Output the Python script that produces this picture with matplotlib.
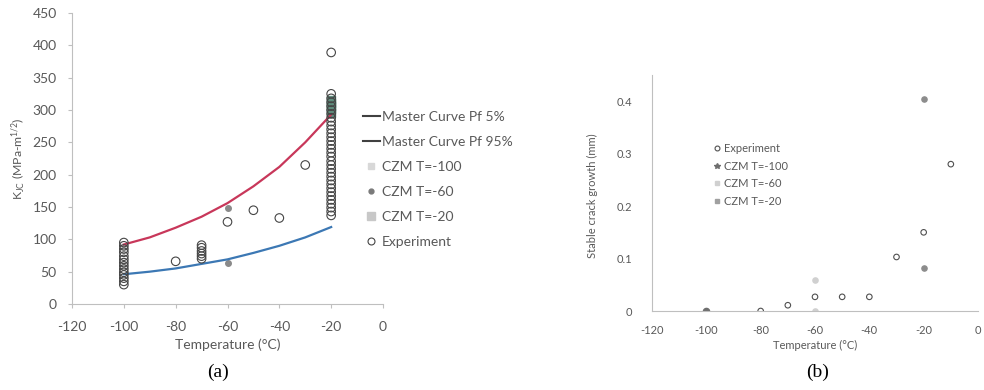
import matplotlib
matplotlib.use("Agg")
import matplotlib.pyplot as plt
from matplotlib.lines import Line2D

plt.rcParams['font.family'] = ['Lato', 'DejaVu Sans']
plt.rcParams['mathtext.fontset'] = 'custom'
plt.rcParams['mathtext.rm'] = 'Lato'
plt.rcParams['mathtext.it'] = 'Lato:italic'

# ---------------- data, panel (a) ----------------
mc_T = [-100, -90, -80, -70, -60, -50, -40, -30, -20]
mc_pf5 = [46, 50, 55, 62, 69, 79, 90, 103, 119]
mc_pf95 = [92, 103, 118, 135, 156, 182, 212, 250, 293]

exp_T = ([-100] * 14 + [-80] + [-70] * 6 + [-60, -50, -40, -30] + [-20] * 32 + [-20])
exp_K = ([30, 35, 40, 45, 49, 54, 59, 64, 69, 74, 80, 85, 90, 95]
         + [66]
         + [70, 74, 78, 82, 87, 91]
         + [127, 145, 133, 215]
         + [137, 143, 149, 155, 161, 167, 173, 179, 185, 191, 197, 203, 209, 215,
            221, 228, 234, 240, 246, 252, 258, 264, 270, 276, 282, 288, 294, 300,
            306, 312, 318, 325]
         + [389])

czm100_T = [-100, -100]
czm100_K = [60, 88]
czm60_T = [-60, -60]
czm60_K = [148, 63]
czm20_T = [-20, -20, -20, -20, -20]
czm20_K = [296, 301, 306, 311, 316]

# ---------------- data, panel (b) ----------------
b_exp_T = [-80, -70, -60, -50, -40, -30, -20, -10]
b_exp_a = [0.0, 0.011, 0.027, 0.027, 0.027, 0.103, 0.150, 0.280]
b_czm100_T = [-100]
b_czm100_a = [0.0]
b_czm60_T = [-60, -60]
b_czm60_a = [0.059, 0.0]
b_czm20_T = [-20, -20]
b_czm20_a = [0.404, 0.082]

a_yticks = [0, 50, 100, 150, 200, 250, 300, 350, 400, 450]
b_yticks = [0, 0.1, 0.2, 0.3, 0.4]
xticks = [-120, -100, -80, -60, -40, -20, 0]

TXT = '#595959'
AX = '#BFBFBF'

fig = plt.figure(figsize=(9.84, 3.90), dpi=100)

# ================= panel (a) =================
ax1 = fig.add_axes([72 / 984, 1 - 304 / 390, 311 / 984, 291 / 390])
ax1.plot(mc_T, mc_pf5, color='#3C78B4', lw=1.6, zorder=3)
ax1.plot(mc_T, mc_pf95, color='#C8375A', lw=1.6, zorder=3)
ax1.scatter(czm100_T, czm100_K, marker='s', s=14, color='#D8D8D8', zorder=2)
ax1.scatter(czm60_T, czm60_K, marker='o', s=16, color='#8A8A8A', zorder=2)
ax1.scatter(czm20_T, czm20_K, marker='s', s=30, color='#5E8C7C', zorder=2)
ax1.scatter(exp_T, exp_K, marker='o', s=38, facecolors='none',
            edgecolors='#454545', linewidths=0.8, zorder=4)
ax1.set_xlim(-120, 0)
ax1.set_ylim(0, 450)
ax1.set_xticks(xticks)
ax1.set_yticks(a_yticks)
ax1.set_xticklabels([str(v) for v in xticks])
ax1.set_yticklabels([str(v) for v in a_yticks])
for s in ['top', 'right']:
    ax1.spines[s].set_visible(False)
for s in ['left', 'bottom']:
    ax1.spines[s].set_color(AX)
    ax1.spines[s].set_linewidth(0.8)
ax1.tick_params(axis='both', colors=AX, labelcolor=TXT, labelsize=10, length=3)
ax1.tick_params(axis='x', pad=9)
ax1.tick_params(axis='y', pad=8)
ax1.set_xlabel('Temperature (°C)', fontsize=10, color=TXT, labelpad=4)
ax1.set_ylabel(r'K$_{\mathrm{JC}}$ (MPa-m$^{\mathrm{1/2}}$)', fontsize=8.8,
               color=TXT, labelpad=6)
ax1.yaxis.set_label_coords(-0.145, 0.50)

hA = [Line2D([], [], color='#404040', lw=1.5),
      Line2D([], [], color='#404040', lw=1.5),
      Line2D([], [], ls='none', marker='s', ms=4, color='#D8D8D8'),
      Line2D([], [], ls='none', marker='o', ms=3.5, color='#7A7A7A'),
      Line2D([], [], ls='none', marker='s', ms=6, color='#C8C8C8'),
      Line2D([], [], ls='none', marker='o', ms=5, mfc='none', mec='#454545', mew=0.8)]
lA = ['Master Curve Pf 5%', 'Master Curve Pf 95%', 'CZM T=-100', 'CZM T=-60',
      'CZM T=-20', 'Experiment']
legA = fig.legend(hA, lA, loc='upper left', bbox_to_anchor=(363 / 984, 1 - 111 / 390),
                  frameon=False, fontsize=10, handlelength=1.2, handletextpad=0.15,
                  labelspacing=0.93, borderpad=0, borderaxespad=0)
for t in legA.get_texts():
    t.set_color(TXT)

fig.text(218 / 984, 1 - 372 / 390, '(a)', fontsize=14, family='Liberation Serif',
         ha='center', va='center', color='black')

# ================= panel (b) =================
ax2 = fig.add_axes([652 / 984, 1 - 311 / 390, 326 / 984, 236 / 390])
ax2.scatter(b_czm60_T, b_czm60_a, marker='o', s=14, color='#D0D0D0', zorder=2)
ax2.scatter(b_czm20_T, b_czm20_a, marker='o', s=14, color='#8C8C8C', zorder=2)
ax2.scatter(b_czm100_T, b_czm100_a, marker='o', s=20, color='#6E6E6E', zorder=2)
ax2.scatter(b_exp_T, b_exp_a, marker='o', s=16, facecolors='none',
            edgecolors='#505050', linewidths=0.8, zorder=4)
ax2.set_xlim(-120, 0)
ax2.set_ylim(0, 0.45)
ax2.set_xticks(xticks)
ax2.set_yticks(b_yticks)
ax2.set_xticklabels([str(v) for v in xticks])
ax2.set_yticklabels(['0', '0.1', '0.2', '0.3', '0.4'])
for s in ['top', 'right']:
    ax2.spines[s].set_visible(False)
for s in ['left', 'bottom']:
    ax2.spines[s].set_color(AX)
    ax2.spines[s].set_linewidth(0.8)
ax2.tick_params(axis='both', colors=AX, labelcolor=TXT, labelsize=8, length=0)
ax2.tick_params(axis='x', pad=10)
ax2.tick_params(axis='y', pad=14)
ax2.set_xlabel('Temperature (°C)', fontsize=8, color=TXT, labelpad=3)
ax2.set_ylabel('Stable crack growth (mm)', fontsize=8, color=TXT, labelpad=8)
ax2.yaxis.set_label_coords(-0.165, 0.49)

hB = [Line2D([], [], ls='none', marker='o', ms=3.5, mfc='none', mec='#505050', mew=0.8),
      Line2D([], [], ls='none', marker='*', ms=4, color='#6E6E6E'),
      Line2D([], [], ls='none', marker='s', ms=3, color='#D0D0D0'),
      Line2D([], [], ls='none', marker='s', ms=3, color='#A0A0A0')]
lB = ['Experiment', 'CZM T=-100', 'CZM T=-60', 'CZM T=-20']
legB = fig.legend(hB, lB, loc='upper left', bbox_to_anchor=(714 / 984, 1 - 143 / 390),
                  frameon=False, fontsize=8, handlelength=0.6, handletextpad=0.3,
                  labelspacing=0.6, borderpad=0, borderaxespad=0)
for t in legB.get_texts():
    t.set_color(TXT)

fig.text(818 / 984, 1 - 372 / 390, '(b)', fontsize=14, family='Liberation Serif',
         ha='center', va='center', color='black')

fig.savefig('out.png', dpi=100)
